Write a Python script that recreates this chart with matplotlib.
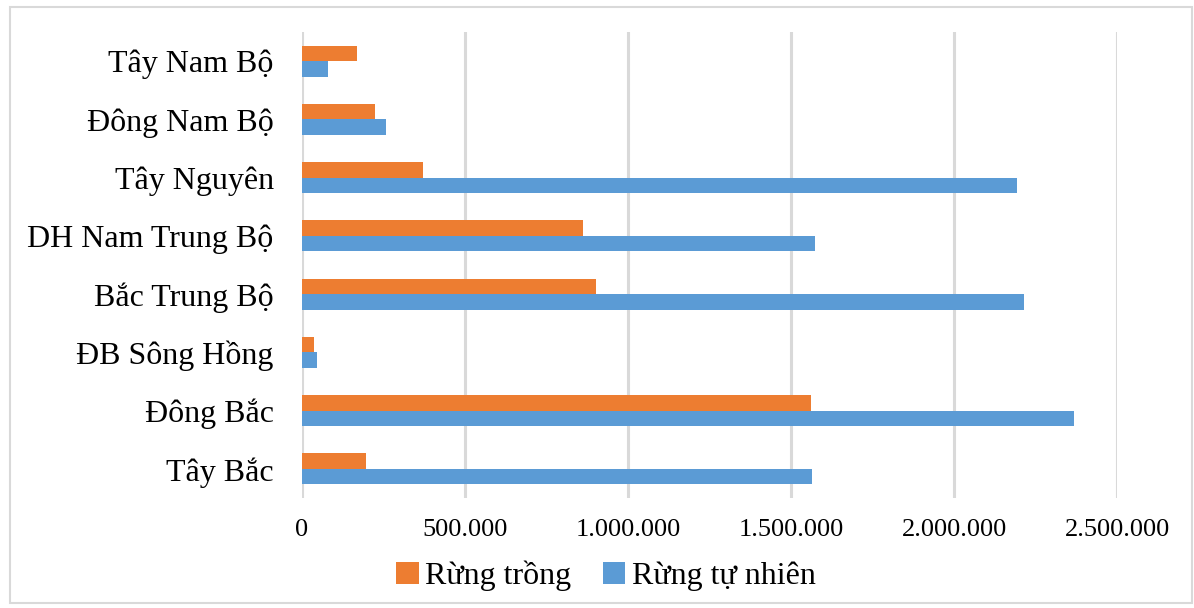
import matplotlib
matplotlib.use("Agg")
import matplotlib.pyplot as plt
from matplotlib.patches import Rectangle
import numpy as np

plt.rcParams["font.family"] = ["Liberation Serif", "DejaVu Serif"]

# vùng, từ dưới lên
regions = ["Tây Bắc", "Đông Bắc", "ĐB Sông Hồng", "Bắc Trung Bộ",
           "DH Nam Trung Bộ", "Tây Nguyên", "Đông Nam Bộ", "Tây Nam Bộ"]
rung_trong = [198000, 1561000, 39000, 903000, 864000, 372000, 225000, 171000]
rung_tu_nhien = [1565000, 2366000, 48000, 2215000, 1575000, 2192000, 260000, 81000]
xticks = [0, 500000, 1000000, 1500000, 2000000, 2500000]

orange = "#ED7D31"
blue = "#5B9BD5"

fig = plt.figure(figsize=(11.94, 6.08), dpi=100)
ax = fig.add_axes([301.5 / 1194, 1 - 498 / 608, (1117.3 - 301.5) / 1194, (498 - 32) / 608])

y = np.arange(len(regions))
h = 0.266
ax.barh(y + h / 2, rung_trong, height=h, color=orange, label="Rừng trồng", zorder=3)
ax.barh(y - h / 2, rung_tu_nhien, height=h, color=blue, label="Rừng tự nhiên", zorder=3)

ax.set_xlim(0, 2500000)
ax.set_ylim(-0.5, 7.5)
ax.set_xticks(xticks)
ax.set_xticklabels([f"{v:,}".replace(",", ".") for v in xticks], fontsize=19)
ax.set_yticks(y)
ax.set_yticklabels(regions, fontsize=23)
ax.tick_params(axis="both", length=0)
ax.tick_params(axis="y", pad=20)
ax.tick_params(axis="x", pad=15)
ax.xaxis.grid(True, color="#D9D9D9", linewidth=2.2, zorder=0)
for s in ax.spines.values():
    s.set_visible(False)

fig.legend(loc="center", bbox_to_anchor=(606 / 1194, 1 - 576 / 608), ncol=2,
           frameon=False, fontsize=23, handlelength=0.7, handleheight=0.7,
           handletextpad=0.2, columnspacing=1.0)

# khung ngoài
fig.patches.append(Rectangle((10 / 1194, 1 - 603 / 608), 1182 / 1194, 596 / 608,
                             transform=fig.transFigure, fill=False,
                             edgecolor="#D9D9D9", linewidth=1.5))

fig.savefig("out.png", dpi=100)
